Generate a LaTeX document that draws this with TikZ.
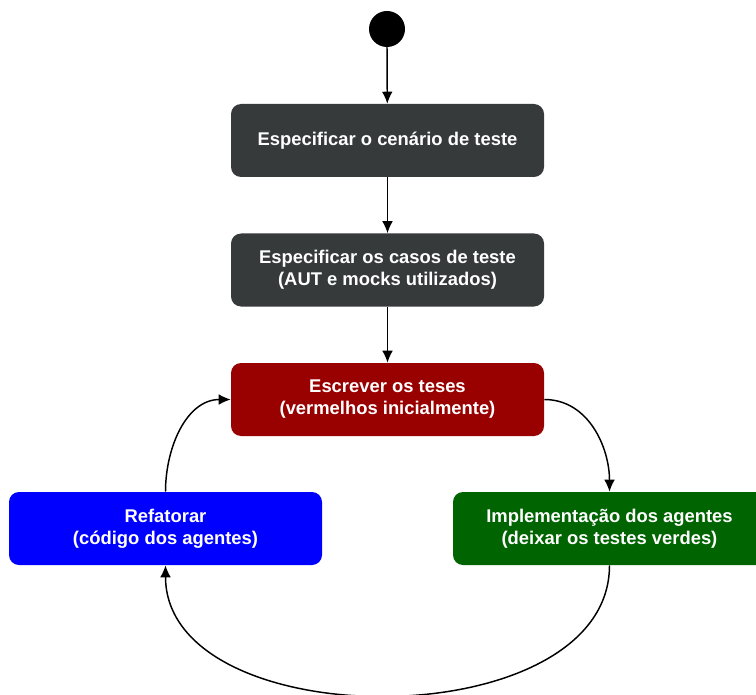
\documentclass[tikz,border=0pt]{standalone}
\usepackage{fontspec}
\setmainfont{Liberation Sans}
\usepackage{xcolor}
\usepackage{tikz}
\usetikzlibrary{arrows.meta}
\usetikzlibrary{positioning}

\definecolor{stepgray}{HTML}{363A3B}
\definecolor{stepred}{HTML}{990000}
\definecolor{stepblue}{HTML}{0000FF}
\definecolor{stepgreen}{HTML}{006400}

\tikzset{
  stepbox/.style={rectangle, rounded corners=7.5pt, minimum width=234.75pt,
    minimum height=54.75pt, align=center, text=white,
    font=\fontsize{13.8}{16.5}\selectfont\bfseries},
  flow/.style={line width=1.1pt, arrows = {-Latex[width=8pt, length=9pt]}}
}

\begin{document}
\begin{tikzpicture}[x=0.75pt,y=-0.75pt]
\useasboundingbox (0,0) rectangle (756,695);
\clip (0,0) rectangle (756,695);
\fill (387,29) circle (13.5pt);
\coordinate (start) at (387,47);
\node[stepbox, fill=stepgray] (cenario) at (387.5,140.5) {Especificar o cenário de teste};
\node[stepbox, fill=stepgray] (casos) at (387.5,270) {Especificar os casos de teste\\(AUT e mocks utilizados)};
\node[stepbox, fill=stepred] (escrever) at (387.5,399.5) {Escrever os teses\\(vermelhos inicialmente)};
\node[stepbox, fill=stepblue] (refatorar) at (165.5,528.5) {Refatorar\\(código dos agentes)};
\node[stepbox, fill=stepgreen] (implementar) at (609.5,528.5) {Implementação dos agentes\\(deixar os testes verdes)};
\draw[flow] (start) -- (cenario);
\draw[flow] (cenario) -- (casos);
\draw[flow] (casos) -- (escrever);
\draw[flow] (escrever.east) to[out=0, in=90] (implementar.north);
\draw[flow] (implementar.south) to[out=-90, in=-90] (refatorar.south);
\draw[flow] (refatorar.north) to[out=90, in=180] (escrever.west);
\end{tikzpicture}
\end{document}
